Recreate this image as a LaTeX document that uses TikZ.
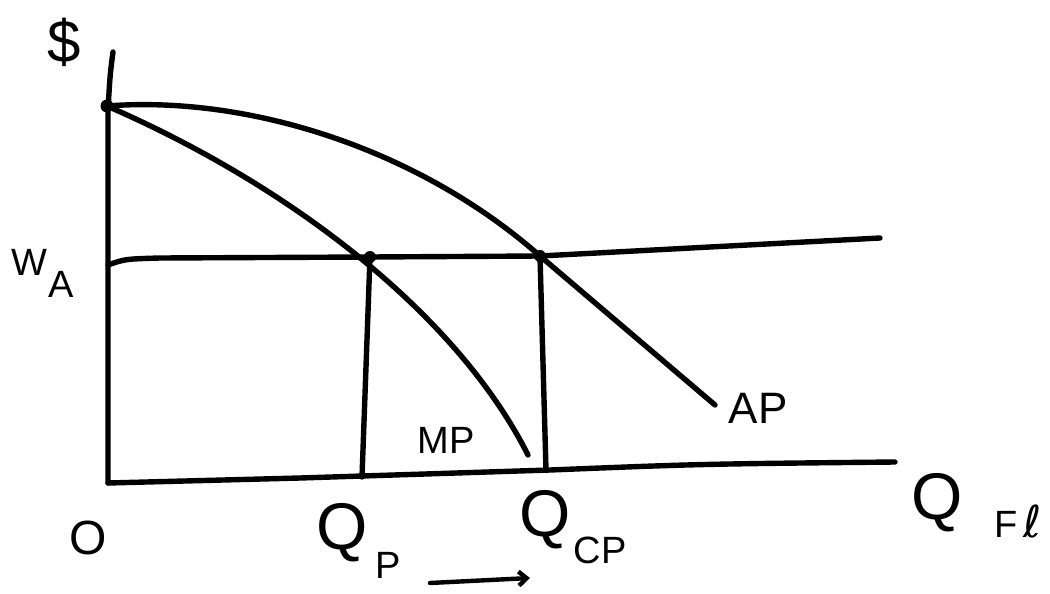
\documentclass[tikz,border=0pt]{standalone}
\usepackage{fontspec}
\setmainfont{Liberation Sans}
\newfontfamily\dejavu{DejaVu Sans}
\usetikzlibrary{arrows.meta}
\begin{document}
\begin{tikzpicture}[x=1pt,y=-1pt,
  ink/.style={line width=5.4pt,line cap=round,line join=round,black},
  lbl/.style={inner sep=0pt,anchor=center,text=black},
  dotmark/.style={circle,fill=black,inner sep=0pt,minimum size=13pt}]
\path[use as bounding box,fill=white] (0,0) rectangle (1050,594);
% coordinates
\coordinate (ytop) at (113,52);
\coordinate (ybend) at (108,110);
\coordinate (orig) at (108,483);
\coordinate (xend) at (895,462);
\coordinate (wa0) at (108,265);
\coordinate (waend) at (880,238);
\coordinate (qpb) at (362,477);
\coordinate (qcpb) at (546,470);
\coordinate (mpend) at (528,455);
\coordinate (apend) at (715,405);
\coordinate (arr0) at (430,583);
\coordinate (arr1) at (530,578);
\node[dotmark] (top) at (107,106) {};
\node[dotmark,minimum size=12pt] (pm) at (370,257) {};
\node[dotmark,minimum size=12pt] (pc) at (540,256) {};
% axes
\draw[ink] (ytop) .. controls (110,75) .. (ybend) -- (orig);
\draw[ink] (orig) -- (300,478) -- (550,470) .. controls (700,464) .. (xend);
% wage line
\draw[ink] (wa0) .. controls (125,259) .. (160,258) -- (pm.center) -- (pc.center) -- (waend);
% AP curve
\draw[ink] (top.center) .. controls (250,95) and (420,150) .. (pc.center) -- (apend);
% MP curve
\draw[ink] (top.center) .. controls (300,190) and (460,320) .. (mpend);
% verticals
\draw[ink] (pm.center) -- (qpb);
\draw[ink] (pc.center) -- (qcpb);
% arrow
\draw[ink,line width=4.4pt,-{Straight Barb[length=8pt,width=14pt]}] (arr0) -- (arr1);
% labels
\node[lbl,font=\fontsize{60}{62}\selectfont] (dollar) at (64,42) {\$};
\node[lbl,font=\fontsize{38}{40}\selectfont] (w) at (29,262) {W};
\node[lbl,font=\fontsize{38}{40}\selectfont] (wsub) at (61,284) {A};
\node[lbl,font=\fontsize{48}{50}\selectfont] (o) at (88,538) {O};
\node[lbl,font=\fontsize{66}{68}\selectfont] (qp) at (342,533) {Q};
\node[lbl,font=\fontsize{38}{40}\selectfont] (qpsub) at (388,565) {P};
\node[lbl,font=\fontsize{66}{68}\selectfont] (qcp) at (545,520) {Q};
\node[lbl,font=\fontsize{38}{40}\selectfont] (qcpsub) at (600,550) {CP};
\node[lbl,font=\fontsize{66}{68}\selectfont] (qfc) at (937,503) {Q};
\node[lbl,font=\fontsize{38}{40}\selectfont,anchor=base west] (qfcsub) at (994,537) {F\,{\dejavu\fontsize{44}{46}\selectfont ℓ}};
\node[lbl,font=\fontsize{38}{40}\selectfont] (mp) at (446,440) {MP};
\node[lbl,font=\fontsize{44}{46}\selectfont] (ap) at (758,408) {AP};
\end{tikzpicture}
\end{document}
